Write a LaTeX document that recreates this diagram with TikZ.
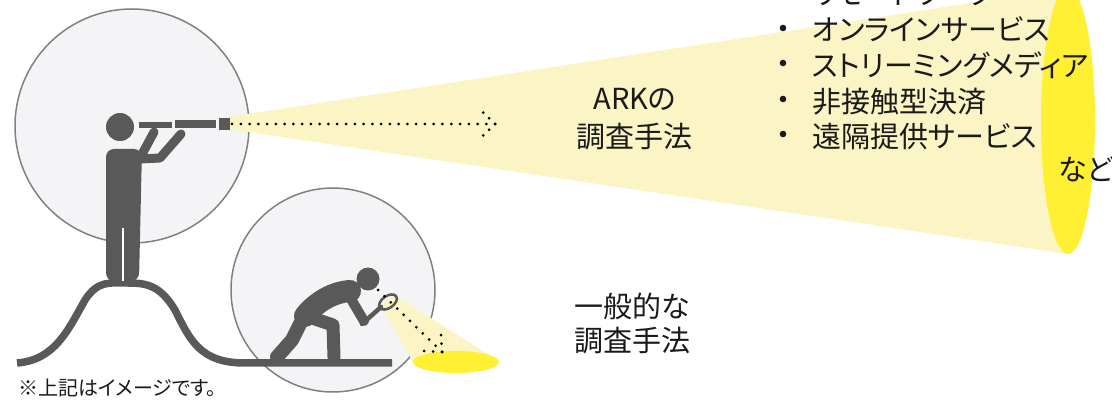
\documentclass[tikz,border=0pt]{standalone}
\usepackage{fontspec}
\newfontfamily\jpfont{Noto Sans CJK JP}[RawFeature=+palt]
\definecolor{figgray}{HTML}{595959}
\definecolor{viewfill}{HTML}{F4F4F6}
\definecolor{viewline}{HTML}{808080}
\definecolor{beamlight}{HTML}{FBF4C4}
\definecolor{spotyellow}{HTML}{FFF033}
\definecolor{textc}{HTML}{1A1A1A}
\begin{document}
\begin{tikzpicture}[x=1pt,y=-1pt,
  view/.style={fill=viewfill, draw=viewline, line width=1.5pt},
  figure/.style={fill=figgray},
  limb/.style={draw=figgray, line cap=round, line join=round},
  ground/.style={draw=figgray, line width=7.5pt, line join=round},
  beam/.style={fill=beamlight},
  spot/.style={fill=spotyellow},
  dots/.style={draw=black, line width=3pt, line cap=round, dash pattern=on 0pt off #1},
  dots/.default=8.77pt,
  label/.style={font=\jpfont\fontsize{29}{35}\selectfont, text=textc, inner sep=0pt, anchor=base},
  item/.style={font=\jpfont\fontsize{29}{35}\selectfont, text=textc, inner sep=0pt, anchor=base west},
  note/.style={font=\jpfont\fontsize{20}{24}\selectfont, text=textc, inner sep=0pt, anchor=base west},
  bullet/.style={fill=textc}]
\useasboundingbox (0,0) rectangle (1112,403);
\clip (0,0) rectangle (1112,403);

% viewing circles
\path[view] (132,126) circle[radius=117pt];
\path[view] (333,290) circle[radius=102pt];

% wide beam from the telescope
\path[beam] (228,117) -- (1068,-12) -- (1068,254) -- (228,129) -- cycle;
\path[spot] (1068,121) ellipse[x radius=27pt, y radius=133pt];

% narrow beam from the magnifier
\path[beam] (380,305) -- (393,294) -- (497,360) -- (413,362) -- cycle;
\path[spot] (456,362) ellipse[x radius=43pt, y radius=11pt];

% hill and ground
\draw[ground] (17,363) .. controls (55,360) and (68,330) .. (85,300)
  .. controls (98,280) and (110,283) .. (128,283)
  .. controls (146,283) and (160,285) .. (175,310)
  .. controls (190,340) and (200,363) .. (245,363) -- (392,363);

% standing figure with telescope
\fill[figure, rounded corners=8pt] (106,281) -- (106,149) -- (142,149) -- (139,281) -- cycle;
\draw[white, line width=1.2pt] (123,228) -- (123,281);
\fill[figure] (120,127) circle[radius=14pt];
\draw[limb, line width=9pt] (140,158) -- (154,132);
\draw[limb, line width=9pt] (140,159) -- (160,158) -- (181,134);
\fill[figure] (139,122.5) rectangle (172,128.5);
\fill[figure] (175,120.5) rectangle (216,128.5);
\fill[figure] (219,118) rectangle (230,130);

% crouching figure with magnifier
\fill[figure] (368,279) circle[radius=11.5pt];
\draw[limb, line width=22pt] (305,316) .. controls (318,300) and (335,292) .. (350,291);
\draw[limb, line width=14pt] (303,318) -- (292,340) -- (277,357);
\draw[limb, line width=13pt] (312,318) -- (333,325) -- (334,357);
\draw[limb, line width=10pt] (348,294) -- (364,321);
\draw[limb, line width=4.5pt] (362,324) -- (381,307);
\draw[draw=figgray, line width=2.5pt, rotate around={35:(388,302)}] (388,302) ellipse[x radius=10pt, y radius=6pt];

% dotted sight lines
\coordinate (scopeEnd) at (232,124);
\coordinate (farTip) at (495,124);
\coordinate (farBarbA) at (483,112.5);
\coordinate (farBarbB) at (483,135.5);
\draw[dots] (scopeEnd) -- (farTip);
\draw[dots=8.2pt] (farTip) -- (farBarbA);
\draw[dots=8.2pt] (farTip) -- (farBarbB);

\coordinate (eye) at (378,290);
\coordinate (nearTip) at (442,352);
\coordinate (nearBarbA) at (441,335);
\coordinate (nearBarbB) at (424,351);
\draw[dots=8.9pt] (eye) -- (nearTip);
\draw[dots=8.5pt] (nearTip) -- (nearBarbA);
\draw[dots=8.9pt] (nearTip) -- (nearBarbB);

% method labels
\node[label] (arkA) at (635,110) {ARKの};
\node[label] (arkB) at (634,148) {調査手法};
\node[label] (genA) at (632,318) {一般的な};
\node[label] (genB) at (632,352) {調査手法};

% list of fields
\fill[bullet] (783,-7) circle[radius=3.3pt];
\fill[bullet] (783,28) circle[radius=3.3pt];
\fill[bullet] (783,63) circle[radius=3.3pt];
\fill[bullet] (783,99) circle[radius=3.3pt];
\fill[bullet] (783,134) circle[radius=3.3pt];
\node[item] (f0) at (812,4.7) {リモートワーク};
\node[item] (f1) at (812,40.5) {オンラインサービス};
\node[item] (f2) at (812,76.3) {ストリーミングメディア};
\node[item] (f3) at (812,112.1) {非接触型決済};
\node[item] (f4) at (812,147.9) {遠隔提供サービス};
\node[item] (etc) at (1058,181) {など};

% footnote
\node[note] (fn) at (18,396) {※上記はイメージです。};
\end{tikzpicture}
\end{document}
